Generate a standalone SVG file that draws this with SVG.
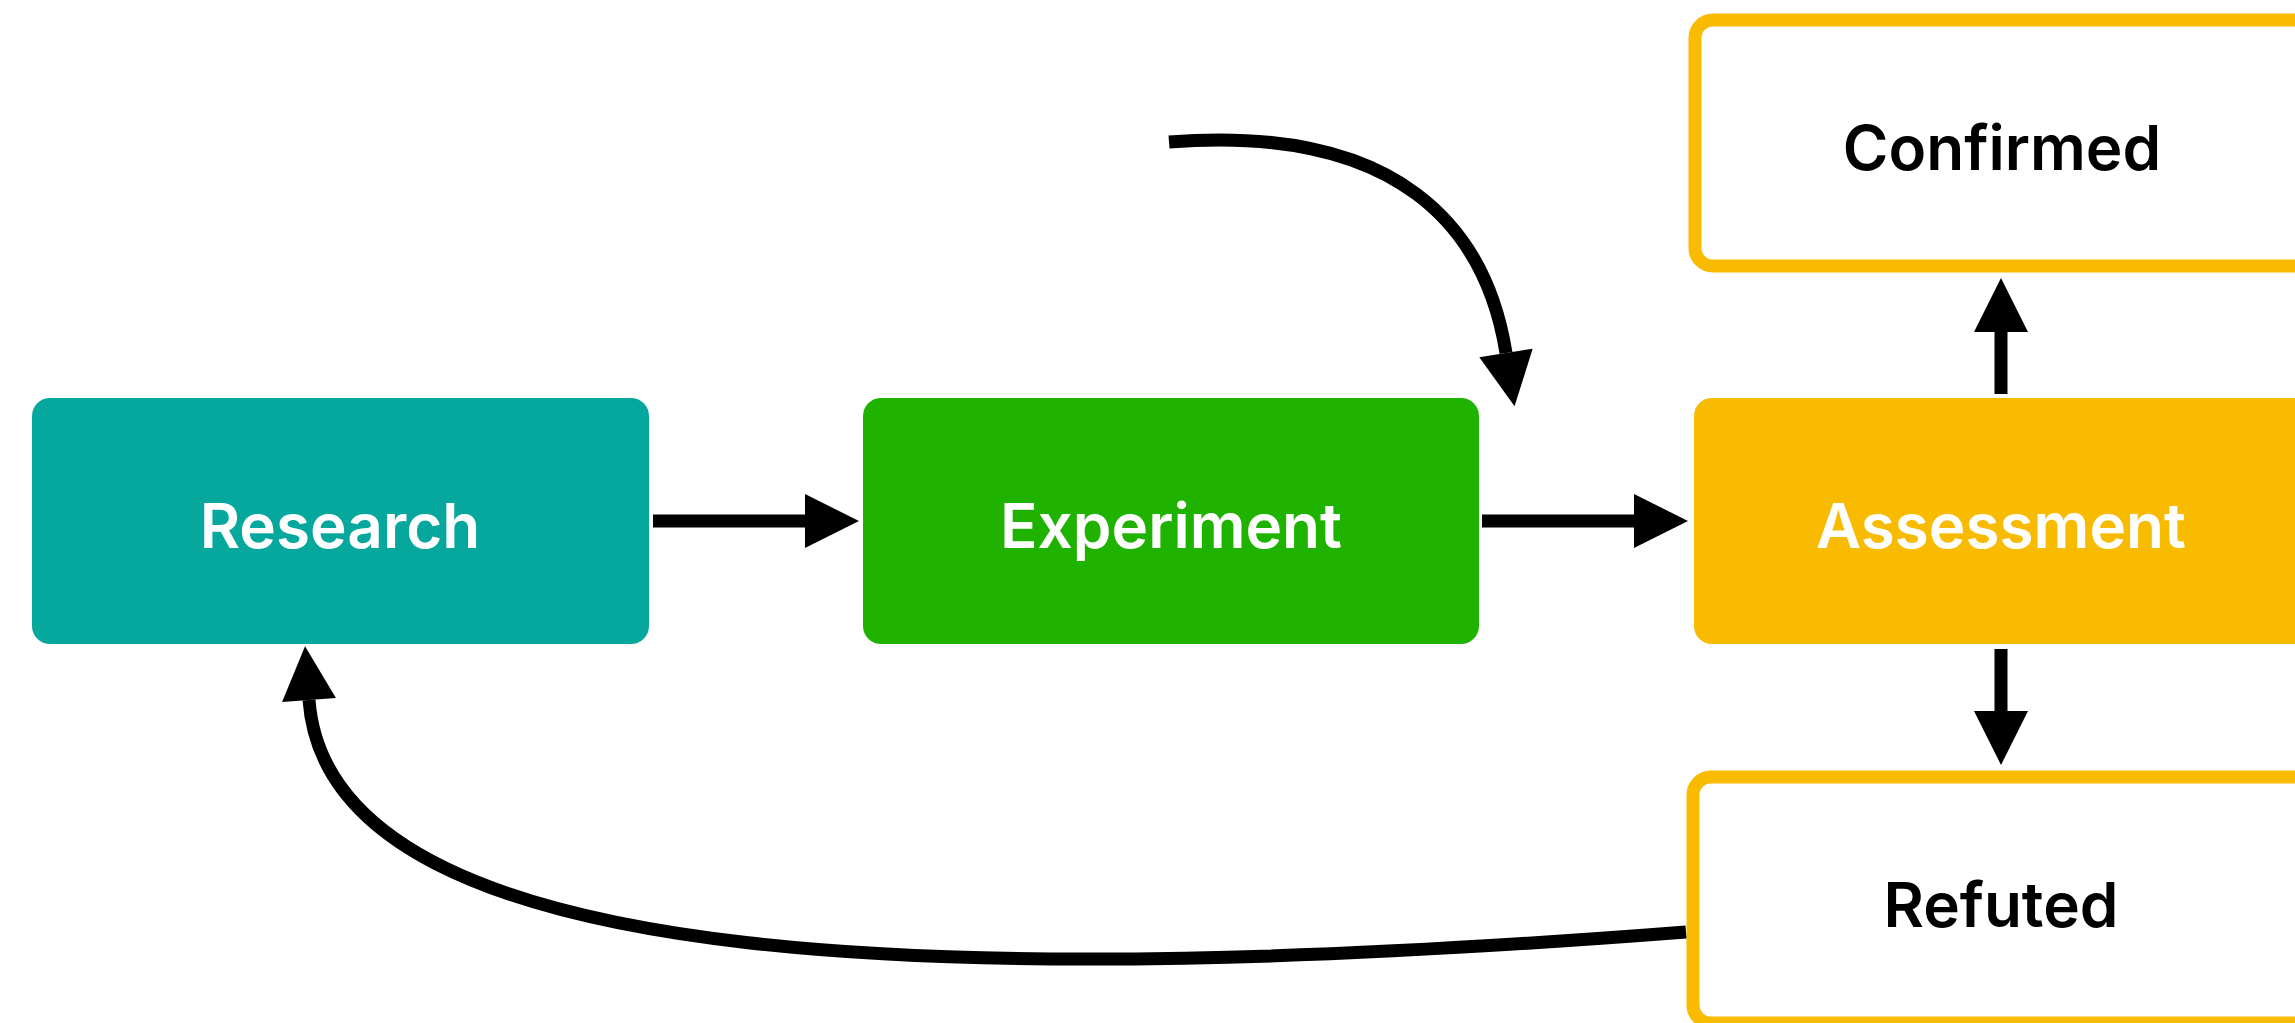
<svg xmlns="http://www.w3.org/2000/svg" width="2295" height="1023" viewBox="0 0 2295 1023">
<style>
.lbl{font-family:Inter,"Liberation Sans",Arial,sans-serif;font-size:62px;font-weight:600;text-anchor:middle}
.w{fill:#ffffff}
.k{fill:#000000}
.out{fill:#ffffff;stroke:#F8BB00;stroke-width:13}
.con{fill:none;stroke:#000000;stroke-width:13;marker-end:url(#ah)}
</style>
<defs>
<marker id="ah" markerUnits="userSpaceOnUse" markerWidth="54" markerHeight="54" refX="0" refY="27" orient="auto" overflow="visible">
<path d="M0 0 L54 27 L0 54 Z" fill="#000000"/>
</marker>
</defs>
<rect width="2295" height="1023" fill="#ffffff"/>
<g id="research">
<rect x="32" y="398" width="617" height="246" rx="18" fill="#06A89E"/>
<text class="lbl w" x="340" y="548">Research</text>
</g>
<g id="experiment">
<rect x="863" y="398" width="616" height="246" rx="18" fill="#1FB300"/>
<text class="lbl w" x="1171" y="548">Experiment</text>
</g>
<g id="assessment">
<rect x="1694" y="398" width="630" height="246" rx="18" fill="#F8BB00"/>
<text class="lbl w" x="2001" y="548">Assessment</text>
</g>
<g id="confirmed">
<rect class="out" x="1695" y="20" width="630" height="246" rx="18"/>
<text class="lbl k" x="2002" y="170">Confirmed</text>
</g>
<g id="refuted">
<rect class="out" x="1693" y="777" width="630" height="246" rx="18"/>
<text class="lbl k" x="2001" y="927">Refuted</text>
</g>
<g id="connectors">
<path class="con" d="M653 521 L805 521"/>
<path class="con" d="M1482 521 L1634 521"/>
<path class="con" d="M2001 394 L2001 332"/>
<path class="con" d="M2001 649 L2001 711"/>
<path class="con" d="M1169 142 C1399 124 1486 228 1506 353"/>
<path class="con" d="M1686 932 C1000 985 330 985 309 700"/>
</g>
</svg>
